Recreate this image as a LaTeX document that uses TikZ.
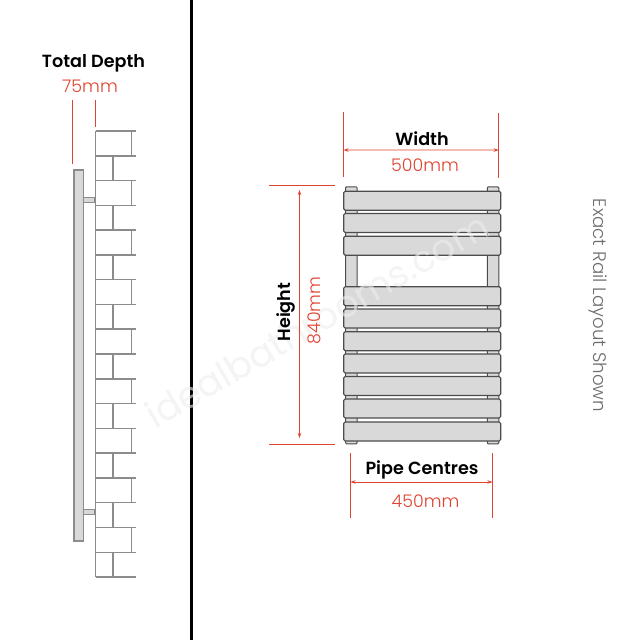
\documentclass[tikz,border=0pt]{standalone}
\usepackage{fontspec}
\setmainfont{Poppins}
\newfontfamily\boldface{Poppins SemiBold}
\newfontfamily\lightface{Poppins Light}
\usepackage{tikz}
\usetikzlibrary{arrows.meta,calc}
\definecolor{dimred}{HTML}{E0432F}
\definecolor{barfill}{HTML}{D9D9DA}
\definecolor{barline}{HTML}{4C4C4E}
\definecolor{brickline}{HTML}{8C8C8E}
\definecolor{notegray}{HTML}{6E6E70}

\begin{document}
\begin{tikzpicture}[x=1pt,y=-1pt]
    \tikzstyle{title} = [font=\boldface\fontsize{17.6}{20}\selectfont, text=black, inner sep=0pt]
    \tikzstyle{size} = [font=\lightface\fontsize{17.4}{20}\selectfont, text=dimred, inner sep=0pt]
    \tikzstyle{bar} = [draw=barline, fill=barfill, line width=1.1pt, rounded corners=1.5pt, minimum width=157pt, minimum height=19pt, inner sep=0pt]
    \tikzstyle{pipe} = [draw=barline, fill=barfill, line width=1pt, rounded corners=1pt, minimum width=11.5pt, inner sep=0pt]
    \tikzstyle{tick} = [dimred, line width=0.7pt]
    \tikzstyle{arrow} = [dimred, line width=0.7pt, <->, >={Stealth[length=5pt,width=3.5pt]}]
    \tikzstyle{brick} = [brickline, line width=1.5pt]

    \useasboundingbox (0,0) rectangle (640,640);
    \fill[white] (0,0) rectangle (640,640);
    \coordinate (divtop) at (191.5,0);
    \coordinate (divbot) at (191.5,640);
    \draw[black, line width=2.4pt] (divtop) -- (divbot);

    % wall
    \foreach \i in {0,...,18}
        \draw[brick] (95.5,131+24.78*\i) -- (136,131+24.78*\i);
    \draw[brick] (95.5,131) -- (95.5,577);
    \foreach \i in {0,2,...,16}
        \draw[brick] (131.5,131+24.78*\i) -- (131.5,131+24.78*\i+24.78);
    \foreach \i in {1,3,...,17}
        \draw[brick] (113,131+24.78*\i) -- (113,131+24.78*\i+24.78);

    % side view
    \node (railside) [draw=brickline, fill=barfill, line width=1.5pt, minimum width=9.5pt, minimum height=371pt, inner sep=0pt] at (78.5,355.5) {};
    \node (upper) [draw=brickline, fill=barfill, line width=1pt, minimum width=11.5pt, minimum height=5pt, inner sep=0pt] at (89,200) {};
    \node (lower) [draw=brickline, fill=barfill, line width=1pt, minimum width=11.5pt, minimum height=5pt, inner sep=0pt] at (89,512) {};

    % front view
    \node (pipeleft) [pipe, minimum height=257pt] at (351.3,315.3) {};
    \node (piperight) [pipe, minimum height=257pt] at (493,315.3) {};
    \foreach \y [count=\n] in {200.7,223,245.7,296.2,318.5,341.2,363.5,386,408.5,431.5}
        \node (bar\n) [bar] at (422.2,\y) {};

    % watermark
    \node (mark) [rotate=30, opacity=0.6, text=black!7, font=\fontsize{37}{40}\selectfont, inner sep=0pt] at (317,320) {idealbathrooms.com};

    % depth
    \node (depth) [title] at (93.5,63.5) {Total Depth};
    \node (depthsize) [size] at (90,86) {75mm};
    \coordinate (dl1) at (72,100);
    \coordinate (dl2) at (72,164);
    \coordinate (dr1) at (95,100);
    \coordinate (dr2) at (95,127);
    \draw [tick] (dl1) -- (dl2);
    \draw [tick] (dr1) -- (dr2);

    % width
    \node (width) [title] at (422,138.5) {Width};
    \node (widthsize) [size] at (425,165.5) {500mm};
    \coordinate (wl1) at (343.5,112);
    \coordinate (wl2) at (343.5,177);
    \coordinate (wr1) at (498.7,113);
    \coordinate (wr2) at (498.7,178);
    \draw [tick] (wl1) -- (wl2);
    \draw [tick] (wr1) -- (wr2);
    \draw [arrow] ($(wl1)!0.585!(wl2)$) -- ($(wr1)!0.57!(wr2)$);

    % height
    \node (height) [title, rotate=90] at (286.5,312) {Height};
    \node (heightsize) [size, rotate=90] at (314,310.5) {840mm};
    \coordinate (ht1) at (269,185.5);
    \coordinate (ht2) at (335,185.5);
    \coordinate (hb1) at (269,444);
    \coordinate (hb2) at (335,444);
    \coordinate (hat) at (299.5,190);
    \coordinate (hab) at (299.5,438);
    \draw [tick] (ht1) -- (ht2);
    \draw [tick] (hb1) -- (hb2);
    \draw [arrow] (hat) -- (hab);

    % pipe centres
    \node (centres) [title] at (422,470) {Pipe Centres};
    \node (centressize) [size] at (425.5,501) {450mm};
    \coordinate (pl1) at (350.5,453);
    \coordinate (pl2) at (350.5,518);
    \coordinate (pr1) at (492.5,453);
    \coordinate (pr2) at (492.5,518);
    \draw [tick] (pl1) -- (pl2);
    \draw [tick] (pr1) -- (pr2);
    \draw [arrow] ($(pl1)!0.446!(pl2)$) -- ($(pr1)!0.446!(pr2)$);

    \node (note) [rotate=-90, text=notegray, inner sep=0pt, font=\lightface\fontsize{18.2}{20}\selectfont] at (598,305.5) {Exact Rail Layout Shown};
\end{tikzpicture}
\end{document}
